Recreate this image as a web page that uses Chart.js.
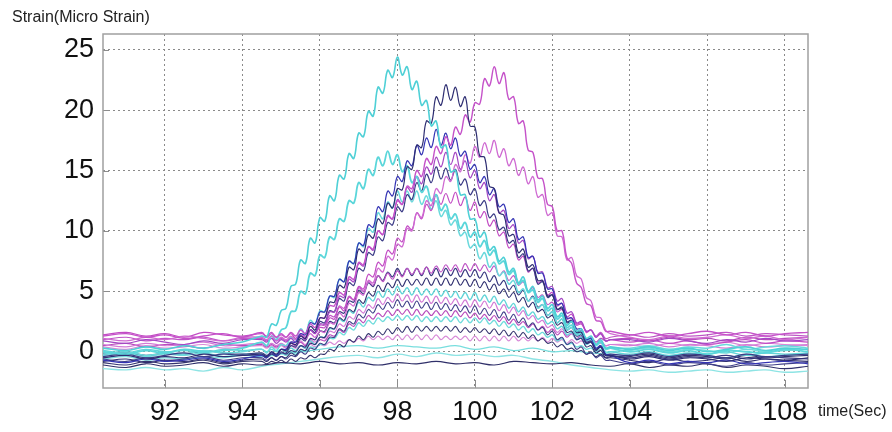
<!DOCTYPE html>
<html>
<head>
<meta charset="utf-8">
<title>Strain vs time</title>
<script src="https://cdn.jsdelivr.net/npm/chart.js@4.4.0/dist/chart.umd.min.js"></script>
<style>
  body { margin: 0; background: #fff; }
  #wrap { position: relative; width: 892px; height: 432px; }
  .cap { position: absolute; font-family: "Liberation Sans", Arial, sans-serif; font-size: 16px; color: #222; white-space: nowrap; }
  #ycap { left: 12px; top: 8px; }
  #xcap { left: 818px; top: 402px; }
</style>
</head>
<body>
<div id="wrap">
  <canvas id="myChart" width="892" height="432"></canvas>
  <div class="cap" id="ycap">Strain(Micro Strain)</div>
  <div class="cap" id="xcap">time(Sec)</div>
</div>
<script>
// tick labels
var xTicks = [92, 94, 96, 98, 100, 102, 104, 106, 108];
var yTicks = [0, 5, 10, 15, 20, 25];

// time (sec) - fine steps during the passing load, coarse before/after
var tFine = [90.4, 91, 91.5, 92, 92.5, 93, 93.5, 94,
  94.5, 94.625, 94.75, 94.875, 95, 95.125, 95.25, 95.375,
  95.5, 95.625, 95.75, 95.875, 96, 96.125, 96.25, 96.375,
  96.5, 96.625, 96.75, 96.875, 97, 97.125, 97.25, 97.375,
  97.5, 97.625, 97.75, 97.875, 98, 98.125, 98.25, 98.375,
  98.5, 98.625, 98.75, 98.875, 99, 99.125, 99.25, 99.375,
  99.5, 99.625, 99.75, 99.875, 100, 100.125, 100.25, 100.375,
  100.5, 100.625, 100.75, 100.875, 101, 101.125, 101.25, 101.375,
  101.5, 101.625, 101.75, 101.875, 102, 102.125, 102.25, 102.375,
  102.5, 102.625, 102.75, 102.875, 103, 103.125, 103.25, 103.375,
  103.5,
  104, 104.5, 105, 105.5, 106, 106.5, 107, 107.5, 108, 108.6];

var tCoarse = [90.4, 91, 91.5, 92, 92.5, 93, 93.5, 94, 94.5, 95, 95.5, 96, 96.5,
  97, 97.5, 98, 98.5, 99, 99.5, 100, 100.5, 101, 101.5, 102, 102.5, 103, 103.5,
  104, 104.5, 105, 105.5, 106, 106.5, 107, 107.5, 108, 108.6];

// strain readings (micro strain), one array per gauge
var cyanA = [0.3, 0.1, 0.4, 0.2, 0.5, 0.3, 0.6, 0.8,
  1.3, 1.2, 2.3, 2.2, 3.4, 3.6, 5.4, 5.6,
  7.6, 7.3, 9.4, 9.0, 11.1, 10.8, 12.9, 12.5,
  14.6, 14.3, 16.4, 16.0, 18.1, 17.8, 19.9, 19.5,
  21.9, 21.4, 23.3, 22.7, 24.4, 22.9, 23.6, 21.7,
  22.4, 20.4, 20.8, 18.7, 19.1, 16.9, 17.1, 14.9,
  15.0, 13.0, 13.0, 11.0, 11.0, 9.5, 9.9, 8.4,
  8.7, 7.5, 7.8, 6.6, 6.9, 5.7, 6.2, 5.0,
  5.4, 4.3, 4.6, 3.6, 3.9, 2.9, 3.2, 2.2,
  2.5, 1.7, 1.9, 1.1, 1.3, 0.6, 1.0, 0.3,
  0.4,
  0.2, 0.4, 0.1, 0.3, 0.0, 0.2, 0.4, 0.1, 0.3, 0.2];

var cyanB = [0.0, -0.2, 0.1, -0.1, 0.2, 0.0, 0.1, 0.3,
  0.8, 0.5, 1.3, 1.0, 1.8, 2.0, 3.3, 3.4,
  5.0, 4.8, 6.5, 6.3, 8.0, 7.8, 9.5, 9.3,
  11.0, 10.8, 12.5, 12.3, 14.0, 13.5, 15.1, 14.6,
  16.1, 15.4, 16.6, 15.5, 16.3, 14.9, 15.4, 14.0,
  14.5, 13.2, 13.7, 12.5, 13.0, 11.7, 12.2, 11.0,
  11.4, 10.2, 10.7, 9.5, 9.9, 8.7, 9.2, 8.0,
  8.4, 7.3, 7.5, 6.4, 6.7, 5.6, 5.9, 4.9,
  5.1, 4.1, 4.4, 3.4, 3.6, 2.7, 3.0, 2.0,
  2.2, 1.5, 1.7, 1.0, 1.1, 0.6, 0.8, 0.3,
  0.3,
  0.0, 0.2, -0.1, 0.1, -0.2, 0.1, 0.0, -0.1, 0.2, 0.0];

var cyanC = [-0.2, 0.0, -0.3, -0.1, -0.2, 0.1, -0.1, 0.0,
  0.2, -0.1, 0.4, 0.1, 0.6, 0.5, 1.2, 1.0,
  1.9, 1.5, 2.6, 2.3, 3.4, 3.3, 4.6, 4.5,
  6.0, 5.8, 7.5, 7.3, 9.0, 8.7, 10.2, 9.9,
  11.5, 11.0, 12.4, 11.9, 13.3, 12.4, 13.3, 12.4,
  13.3, 12.2, 12.9, 11.8, 12.5, 11.2, 11.7, 10.5,
  10.9, 9.6, 9.9, 8.6, 8.9, 7.7, 8.2, 7.0,
  7.4, 6.3, 6.6, 5.6, 5.9, 4.9, 5.2, 4.2,
  4.5, 3.6, 3.9, 3.0, 3.3, 2.4, 2.7, 1.8,
  2.0, 1.4, 1.5, 0.9, 1.0, 0.5, 0.8, 0.2,
  0.3,
  0.3, 0.5, 0.2, 0.4, 0.3, 0.6, 0.2, 0.4, 0.5, 0.3];

var navyC1 = [-0.5, -0.3, -0.6, -0.4, -0.5, -0.2, -0.4, -0.3,
  -0.2, -0.4, 0.0, -0.2, 0.2, 0.1, 0.7, 0.6,
  1.3, 1.1, 2.1, 1.8, 2.8, 2.8, 4.1, 4.1,
  5.5, 5.3, 7.0, 6.8, 8.5, 8.2, 9.7, 9.4,
  11.0, 10.6, 12.3, 11.9, 13.5, 13.4, 15.3, 15.1,
  17.1, 16.9, 19.1, 18.9, 21.1, 20.4, 22.1, 20.8,
  21.9, 20.3, 21.1, 18.7, 18.6, 16.2, 16.1, 13.7,
  13.5, 11.5, 11.3, 9.6, 9.7, 8.2, 8.5, 7.0,
  7.2, 5.9, 5.9, 4.6, 4.7, 3.5, 3.6, 2.4,
  2.5, 1.6, 1.6, 0.7, 0.8, 0.1, 0.4, -0.3,
  -0.3,
  -0.6, -0.4, -0.7, -0.5, -0.6, -0.8, -0.5, -0.6, -0.7, -0.5];

var blueC2 = [-0.7, -0.9, -0.6, -0.8, -0.7, -0.5, -0.8, -0.6,
  -0.3, -0.5, 0.0, -0.3, 0.2, 0.2, 0.8, 0.8,
  1.5, 1.4, 2.4, 2.3, 3.3, 3.3, 4.6, 4.6,
  6.0, 5.8, 7.5, 7.3, 9.0, 8.8, 10.5, 10.3,
  12.0, 11.6, 13.3, 12.9, 14.5, 14.1, 15.8, 15.4,
  17.1, 16.3, 17.7, 16.9, 18.4, 17.1, 18.1, 16.8,
  17.7, 16.2, 16.6, 15.1, 15.5, 14.0, 14.5, 13.0,
  13.5, 12.0, 12.2, 10.7, 11.0, 9.3, 9.5, 7.8,
  7.9, 6.5, 6.5, 5.2, 5.2, 3.9, 4.0, 2.8,
  2.8, 1.9, 1.9, 1.0, 1.1, 0.3, 0.5, -0.2,
  -0.3,
  -0.9, -0.7, -1.0, -0.8, -0.9, -0.7, -1.0, -0.9, -0.8, -1.0];

var navyC3 = [-0.4, -0.2, -0.5, -0.3, -0.1, -0.4, -0.2, -0.3,
  -0.3, -0.5, -0.2, -0.4, -0.1, -0.1, 0.5, 0.4,
  1.1, 0.9, 1.8, 1.6, 2.5, 2.4, 3.4, 3.3,
  4.4, 4.2, 5.7, 5.5, 6.9, 6.7, 8.2, 8.0,
  9.5, 9.2, 10.7, 10.5, 12.0, 11.6, 13.0, 12.6,
  14.0, 13.3, 14.7, 14.0, 15.3, 14.3, 15.2, 14.2,
  15.1, 13.8, 14.3, 13.0, 13.5, 12.1, 12.5, 11.1,
  11.4, 10.1, 10.3, 9.0, 9.2, 7.8, 8.1, 6.7,
  6.9, 5.6, 5.8, 4.5, 4.7, 3.5, 3.7, 2.5,
  2.6, 1.7, 1.7, 0.8, 0.9, 0.2, 0.5, -0.2,
  -0.2,
  -0.3, -0.1, -0.4, -0.2, -0.3, -0.5, -0.2, -0.4, -0.3, -0.2];

var magD = [1.3, 1.5, 1.2, 1.4, 1.1, 1.3, 1.5, 1.2,
  1.6, 1.2, 1.5, 1.2, 1.5, 1.2, 1.6, 1.3,
  1.8, 1.5, 2.3, 2.0, 2.8, 2.8, 3.8, 3.8,
  4.9, 4.7, 6.2, 6.0, 7.4, 7.2, 8.7, 8.5,
  10.0, 9.7, 11.2, 11.0, 12.5, 12.2, 13.7, 13.5,
  15.0, 14.5, 16.0, 15.5, 17.0, 16.4, 17.8, 17.1,
  18.6, 18.0, 19.6, 19.0, 20.6, 20.5, 22.6, 22.0,
  23.6, 22.2, 23.1, 20.9, 21.1, 18.9, 19.1, 16.7,
  16.5, 14.4, 14.3, 12.2, 12.0, 10.0, 10.0, 7.8,
  7.3, 5.7, 5.3, 4.0, 3.8, 2.6, 2.5, 1.7,
  1.7,
  1.4, 1.6, 1.3, 1.5, 1.7, 1.4, 1.6, 1.3, 1.5, 1.6];

var magE = [1.1, 0.9, 1.2, 1.0, 1.3, 1.1, 0.9, 1.2,
  1.2, 1.0, 1.3, 0.9, 1.2, 1.0, 1.3, 1.0,
  1.4, 1.1, 1.5, 1.2, 1.7, 1.6, 2.4, 2.3,
  3.2, 2.9, 4.0, 3.8, 4.9, 4.7, 5.9, 5.7,
  6.9, 6.6, 7.9, 7.6, 8.9, 8.7, 10.2, 10.0,
  11.5, 11.1, 12.5, 12.1, 13.5, 13.1, 14.5, 14.1,
  15.5, 14.9, 16.3, 15.6, 17.0, 16.1, 17.3, 16.4,
  17.5, 16.1, 16.8, 15.4, 16.0, 14.6, 15.3, 13.9,
  14.5, 12.8, 13.0, 11.3, 11.5, 9.6, 9.5, 7.6,
  7.8, 6.3, 6.0, 4.5, 4.2, 2.9, 2.8, 1.8,
  1.5,
  1.2, 1.0, 1.3, 1.1, 1.2, 1.4, 1.1, 1.3, 1.0, 1.2];

var purpM3 = [0.9, 0.7, 1.0, 0.8, 0.6, 0.9, 0.7, 1.0,
  1.0, 0.8, 1.1, 0.7, 1.0, 0.8, 1.1, 0.8,
  1.3, 1.0, 1.8, 1.5, 2.3, 2.3, 3.3, 3.3,
  4.6, 4.5, 6.0, 5.8, 7.3, 7.1, 8.7, 8.4,
  10.0, 9.7, 11.3, 11.0, 12.6, 12.2, 13.6, 13.2,
  14.5, 13.9, 15.3, 14.7, 16.1, 15.3, 16.5, 15.5,
  16.5, 15.1, 15.8, 14.4, 15.0, 13.5, 14.0, 12.5,
  13.0, 11.5, 11.7, 10.2, 10.5, 9.0, 9.2, 7.7,
  7.9, 6.6, 6.6, 5.3, 5.4, 4.2, 4.4, 3.2,
  3.3, 2.4, 2.5, 1.7, 1.8, 1.2, 1.5, 0.9,
  1.0,
  1.0, 0.8, 1.1, 0.9, 0.7, 1.0, 0.8, 1.1, 0.9, 1.0];

var magM4 = [1.4, 1.6, 1.3, 1.5, 1.2, 1.6, 1.4, 1.3,
  1.5, 1.3, 1.6, 1.2, 1.4, 1.2, 1.5, 1.1,
  1.5, 1.2, 1.8, 1.5, 2.0, 2.0, 2.8, 2.7,
  3.7, 3.4, 4.5, 4.3, 5.4, 5.2, 6.4, 6.2,
  7.4, 7.1, 8.4, 8.1, 9.4, 9.1, 10.4, 10.1,
  11.5, 11.0, 12.2, 11.7, 13.0, 12.2, 13.1, 12.3,
  13.2, 12.1, 12.8, 11.7, 12.4, 11.1, 11.6, 10.4,
  10.9, 9.6, 9.9, 8.6, 8.9, 7.6, 7.9, 6.6,
  6.9, 5.7, 5.9, 4.7, 4.9, 3.8, 4.0, 2.9,
  3.1, 2.3, 2.4, 1.6, 1.8, 1.2, 1.5, 0.9,
  1.0,
  0.8, 1.0, 0.7, 0.9, 0.6, 0.8, 1.0, 0.7, 0.9, 0.8];

var magP1 = [1.0, 1.2, 0.9, 1.1, 1.0, 1.2, 0.9, 1.1,
  1.1, 0.9, 1.1, 0.9, 1.1, 0.9, 1.2, 1.0,
  1.4, 1.2, 1.8, 1.6, 2.2, 2.2, 3.0, 2.9,
  3.8, 3.6, 4.6, 4.3, 5.3, 5.0, 5.8, 5.5,
  6.3, 5.8, 6.5, 6.0, 6.7, 6.2, 6.9, 6.4,
  6.9, 6.4, 7.0, 6.5, 7.1, 6.6, 7.2, 6.7,
  7.2, 6.6, 7.3, 6.7, 7.3, 6.7, 7.2, 6.6,
  7.1, 6.3, 6.7, 5.9, 6.3, 5.5, 5.8, 5.0,
  5.3, 4.5, 4.7, 3.9, 4.1, 3.3, 3.5, 2.7,
  2.8, 2.2, 2.3, 1.7, 1.8, 1.3, 1.6, 1.1,
  1.2,
  1.4, 1.2, 1.5, 1.3, 1.4, 1.6, 1.3, 1.5, 1.4, 1.3];

var navyP2 = [-0.2, 0.0, -0.3, -0.1, -0.2, 0.1, -0.1, -0.2,
  -0.1, -0.3, -0.1, -0.3, 0.0, -0.2, 0.1, 0.0,
  0.5, 0.4, 1.1, 1.0, 1.7, 1.7, 2.5, 2.4,
  3.3, 3.2, 4.2, 4.1, 5.1, 4.8, 5.7, 5.4,
  6.3, 5.9, 6.6, 6.2, 6.9, 6.3, 6.9, 6.3,
  6.9, 6.3, 7.0, 6.3, 6.9, 6.2, 6.9, 6.3,
  6.9, 6.2, 6.8, 6.2, 6.8, 6.1, 6.6, 5.8,
  6.3, 5.5, 5.9, 5.1, 5.5, 4.7, 5.1, 4.2,
  4.6, 3.7, 3.9, 3.0, 3.3, 2.4, 2.7, 1.8,
  2.0, 1.3, 1.4, 0.7, 0.8, 0.2, 0.4, -0.3,
  -0.3,
  -0.5, -0.3, -0.6, -0.4, -0.5, -0.3, -0.6, -0.4, -0.5, -0.6];

var navyP3 = [-0.8, -0.6, -0.9, -0.7, -0.8, -0.6, -0.9, -0.7,
  -0.6, -0.8, -0.5, -0.7, -0.4, -0.5, -0.1, -0.3,
  0.2, 0.1, 0.7, 0.6, 1.2, 1.2, 2.0, 1.9,
  2.8, 2.6, 3.5, 3.3, 4.3, 4.0, 4.9, 4.6,
  5.5, 5.0, 5.7, 5.3, 6.0, 5.4, 6.0, 5.5,
  6.0, 5.5, 6.1, 5.5, 6.1, 5.5, 6.1, 5.5,
  6.1, 5.5, 6.0, 5.4, 6.0, 5.3, 5.8, 5.1,
  5.6, 4.8, 5.2, 4.5, 4.9, 4.1, 4.5, 3.7,
  4.1, 3.3, 3.5, 2.8, 3.0, 2.2, 2.4, 1.6,
  1.7, 1.0, 1.1, 0.4, 0.5, -0.1, 0.1, -0.5,
  -0.5,
  -0.7, -0.9, -0.6, -0.8, -0.7, -0.5, -0.8, -0.6, -0.7, -0.8];

var cyanP4 = [0.1, -0.1, 0.2, 0.0, 0.1, -0.1, 0.2, 0.1,
  0.2, 0.0, 0.2, 0.0, 0.2, 0.0, 0.3, 0.1,
  0.5, 0.3, 0.9, 0.6, 1.2, 1.2, 1.9, 1.9,
  2.7, 2.5, 3.4, 3.2, 4.1, 3.7, 4.5, 4.2,
  5.0, 4.5, 5.2, 4.7, 5.4, 4.8, 5.3, 4.7,
  5.3, 4.7, 5.2, 4.7, 5.2, 4.6, 5.1, 4.5,
  5.0, 4.4, 4.9, 4.3, 4.9, 4.2, 4.7, 4.1,
  4.6, 3.9, 4.3, 3.6, 4.0, 3.3, 3.7, 3.0,
  3.3, 2.7, 2.9, 2.3, 2.5, 1.9, 2.1, 1.4,
  1.6, 1.0, 1.2, 0.6, 0.8, 0.3, 0.5, 0.0,
  0.0,
  -0.2, 0.0, -0.3, -0.1, -0.2, 0.0, -0.3, -0.1, -0.2, -0.1];

var magP5 = [0.6, 0.4, 0.7, 0.5, 0.6, 0.8, 0.5, 0.6,
  0.7, 0.5, 0.7, 0.5, 0.7, 0.5, 0.8, 0.6,
  0.9, 0.6, 1.0, 0.8, 1.2, 1.1, 1.7, 1.6,
  2.3, 2.1, 2.9, 2.7, 3.5, 3.2, 3.9, 3.6,
  4.4, 3.9, 4.5, 4.1, 4.8, 4.2, 4.7, 4.1,
  4.7, 4.1, 4.6, 4.0, 4.6, 4.0, 4.5, 3.9,
  4.4, 3.8, 4.3, 3.7, 4.3, 3.7, 4.2, 3.6,
  4.1, 3.4, 3.9, 3.2, 3.7, 3.0, 3.4, 2.7,
  3.0, 2.4, 2.6, 2.0, 2.2, 1.6, 1.9, 1.3,
  1.5, 1.0, 1.2, 0.8, 1.0, 0.6, 0.9, 0.5,
  0.6,
  0.5, 0.7, 0.4, 0.6, 0.5, 0.3, 0.6, 0.4, 0.5, 0.6];

var navyP6 = [-0.6, -0.8, -0.5, -0.7, -0.6, -0.4, -0.7, -0.5,
  -0.5, -0.7, -0.5, -0.7, -0.4, -0.6, -0.3, -0.4,
  0.0, -0.2, 0.3, 0.2, 0.7, 0.6, 1.2, 1.2,
  1.9, 1.7, 2.5, 2.3, 3.1, 2.8, 3.5, 3.2,
  3.9, 3.5, 4.1, 3.6, 4.3, 3.7, 4.2, 3.6,
  4.2, 3.6, 4.1, 3.5, 4.1, 3.5, 4.0, 3.4,
  3.9, 3.3, 3.8, 3.2, 3.8, 3.1, 3.6, 3.0,
  3.5, 2.8, 3.3, 2.6, 3.1, 2.4, 2.8, 2.1,
  2.4, 1.8, 2.0, 1.4, 1.7, 1.0, 1.2, 0.6,
  0.8, 0.2, 0.4, -0.2, 0.0, -0.5, -0.3, -0.7,
  -0.7,
  -1.0, -0.8, -1.1, -0.9, -1.0, -1.2, -0.9, -1.1, -1.0, -0.9];

var magP7 = [0.5, 0.7, 0.4, 0.6, 0.5, 0.3, 0.6, 0.5,
  0.6, 0.4, 0.6, 0.4, 0.6, 0.4, 0.7, 0.5,
  0.8, 0.5, 0.9, 0.6, 1.0, 0.9, 1.4, 1.3,
  1.8, 1.6, 2.3, 2.1, 2.7, 2.4, 3.0, 2.7,
  3.2, 2.9, 3.4, 3.0, 3.5, 3.1, 3.5, 3.0,
  3.5, 3.0, 3.4, 3.0, 3.4, 3.0, 3.4, 2.9,
  3.4, 2.9, 3.3, 2.8, 3.2, 2.7, 3.1, 2.6,
  3.0, 2.5, 2.9, 2.3, 2.7, 2.2, 2.5, 2.0,
  2.3, 1.8, 2.1, 1.6, 1.9, 1.4, 1.7, 1.2,
  1.5, 1.1, 1.3, 0.9, 1.2, 0.8, 1.1, 0.9,
  1.0,
  1.1, 0.9, 1.2, 1.0, 1.1, 0.9, 1.2, 1.0, 1.1, 1.2];

var cyanP8 = [-0.3, -0.1, -0.4, -0.2, -0.3, -0.1, -0.4, -0.2,
  -0.2, -0.4, -0.2, -0.3, -0.1, -0.3, 0.0, -0.2,
  0.1, 0.0, 0.4, 0.3, 0.6, 0.6, 1.1, 1.1,
  1.6, 1.4, 2.0, 1.8, 2.4, 2.1, 2.6, 2.3,
  2.8, 2.5, 2.9, 2.6, 3.0, 2.6, 3.0, 2.6,
  3.0, 2.5, 2.9, 2.5, 2.9, 2.5, 2.9, 2.5,
  2.9, 2.4, 2.8, 2.4, 2.8, 2.4, 2.8, 2.3,
  2.6, 2.1, 2.5, 2.0, 2.3, 1.8, 2.1, 1.6,
  1.9, 1.4, 1.6, 1.2, 1.4, 0.9, 1.1, 0.6,
  0.7, 0.4, 0.5, 0.2, 0.3, 0.0, 0.2, -0.1,
  0.0,
  0.1, 0.3, 0.0, 0.2, 0.1, -0.1, 0.2, 0.0, 0.1, 0.2];

var navyP9 = [-0.9, -1.1, -0.8, -1.0, -0.9, -0.7, -1.0, -0.8,
  -0.8, -1.0, -0.8, -0.9, -0.7, -0.9, -0.6, -0.8,
  -0.5, -0.6, -0.3, -0.5, -0.2, -0.2, 0.2, 0.1,
  0.6, 0.4, 1.0, 0.8, 1.3, 1.0, 1.5, 1.2,
  1.7, 1.4, 1.9, 1.5, 2.0, 1.6, 2.1, 1.6,
  2.1, 1.7, 2.1, 1.7, 2.1, 1.7, 2.1, 1.7,
  2.1, 1.6, 2.0, 1.6, 2.0, 1.6, 1.9, 1.5,
  1.9, 1.4, 1.8, 1.3, 1.7, 1.2, 1.6, 1.1,
  1.4, 0.9, 1.1, 0.7, 0.8, 0.4, 0.6, 0.2,
  0.3, 0.0, 0.1, -0.2, -0.1, -0.4, -0.2, -0.5,
  -0.4,
  -0.4, -0.2, -0.5, -0.3, -0.4, -0.6, -0.3, -0.5, -0.4, -0.3];

var magP10 = [0.4, 0.2, 0.5, 0.3, 0.4, 0.6, 0.3, 0.4,
  0.5, 0.3, 0.5, 0.3, 0.5, 0.3, 0.5, 0.3,
  0.5, 0.3, 0.6, 0.4, 0.6, 0.5, 0.8, 0.6,
  0.9, 0.7, 1.0, 0.8, 1.1, 0.9, 1.3, 1.0,
  1.3, 1.0, 1.3, 1.0, 1.4, 1.0, 1.4, 1.0,
  1.4, 1.0, 1.4, 1.0, 1.4, 1.0, 1.3, 1.0,
  1.3, 1.0, 1.3, 0.9, 1.3, 0.9, 1.3, 0.9,
  1.3, 0.9, 1.3, 0.9, 1.3, 0.9, 1.2, 0.9,
  1.2, 0.9, 1.2, 0.8, 1.1, 0.8, 1.0, 0.7,
  1.0, 0.7, 0.9, 0.6, 0.8, 0.6, 0.7, 0.5,
  0.6,
  0.6, 0.4, 0.7, 0.5, 0.6, 0.8, 0.5, 0.7, 0.6, 0.5];

// near-flat gauges, read at the coarse times
var cyanP11 = [-0.6, -0.4, -0.7, -0.5, -0.6, -0.4, -0.5, -0.3, -0.4, -0.2, 0.0, 0.2, 0.4,
  0.5, 0.3, 0.5, 0.4, 0.3, 0.5, 0.2, 0.4, 0.1, 0.3, 0.0, 0.1, -0.1, -0.2,
  -0.3, -0.1, -0.4, -0.2, -0.3, -0.5, -0.2, -0.4, -0.3, -0.2];
var navyF1 = [-1.1, -1.3, -1.0, -1.2, -1.1, -0.9, -1.2, -1.0, -1.1, -0.9, -1.0, -0.8, -1.0,
  -0.9, -1.1, -0.9, -1.0, -0.8, -1.0, -0.9, -1.1, -0.8, -0.9, -1.0, -0.9, -1.1, -1.2,
  -1.0, -1.3, -1.1, -1.2, -1.0, -1.3, -1.1, -1.2, -1.4, -1.2];
var cyanF2 = [-1.4, -1.5, -1.3, -1.5, -1.4, -1.6, -1.3, -1.5, -1.2, -1.0, -0.8, -0.6, -0.4,
  -0.3, -0.5, -0.2, -0.4, -0.1, -0.3, -0.2, -0.4, -0.3, -0.6, -0.8, -1.1, -1.3, -1.5,
  -1.6, -1.5, -1.7, -1.6, -1.5, -1.7, -1.6, -1.5, -1.7, -1.6];

// gauge, readings, times, colour, width
var gauges = [
  ['cyanA', cyanA, tFine, '#4fd0d6', 1.6],
  ['navyC1', navyC1, tFine, '#2e2e72', 1.2],
  ['magD', magD, tFine, '#c552c9', 1.4],
  ['blueC2', blueC2, tFine, '#3434b4', 1.2],
  ['magE', magE, tFine, '#cf6ad2', 1.3],
  ['cyanB', cyanB, tFine, '#5ad6da', 1.8],
  ['purpM3', purpM3, tFine, '#a447c4', 1.2],
  ['navyC3', navyC3, tFine, '#3b3b86', 1.2],
  ['magM4', magM4, tFine, '#c24cc4', 1.2],
  ['cyanC', cyanC, tFine, '#6ad9dc', 1.5],
  ['magP1', magP1, tFine, '#bf55c6', 1.2],
  ['navyP2', navyP2, tFine, '#383880', 1.2],
  ['navyP3', navyP3, tFine, '#2f2f70', 1.1],
  ['cyanP4', cyanP4, tFine, '#62d4d8', 1.4],
  ['magP5', magP5, tFine, '#d27ad6', 1.2],
  ['navyP6', navyP6, tFine, '#40408a', 1.1],
  ['magP7', magP7, tFine, '#b84cbc', 1.2],
  ['cyanP8', cyanP8, tFine, '#70dcdc', 1.4],
  ['navyP9', navyP9, tFine, '#34346e', 1.1],
  ['magP10', magP10, tFine, '#d88ad8', 1.2],
  ['cyanP11', cyanP11, tCoarse, '#78dede', 1.3],
  ['navyF1', navyF1, tCoarse, '#30306a', 1.1],
  ['cyanF2', cyanF2, tCoarse, '#8ee4e4', 1.4]
];

var datasets = gauges.map(function(g){
  if (g[1].length !== g[2].length) throw new Error(g[0] + ' has ' + g[1].length + ' values, times ' + g[2].length);
  return {
    label: g[0],
    data: g[1].map(function(v, i){ return {x: g[2][i], y: v}; }),
    borderColor: g[3],
    borderWidth: g[4],
    borderJoinStyle: 'round',
    pointRadius: 0,
    tension: 0.4,
    fill: false
  };
});

// short solid ticks on the inside of the frame, plus the frame itself
var frame = {
  id: 'frame',
  beforeDatasetsDraw: function(chart){
    var c = chart.ctx, a = chart.chartArea, x = chart.scales.x, y = chart.scales.y;
    c.save();
    c.strokeStyle = '#8c8c8c';
    c.lineWidth = 1;
    c.beginPath();
    xTicks.forEach(function(v){
      var px = Math.round(x.getPixelForValue(v)) + 0.5;
      c.moveTo(px, a.bottom); c.lineTo(px, a.bottom - 8);
    });
    yTicks.forEach(function(v){
      var py = Math.round(y.getPixelForValue(v)) + 0.5;
      c.moveTo(a.left, py); c.lineTo(a.left + 6, py);
    });
    c.stroke();
    c.strokeStyle = '#a0a0a0';
    c.lineWidth = 1.5;
    c.strokeRect(a.left, a.top, a.right - a.left, a.bottom - a.top);
    c.restore();
  }
};

var ctx = document.getElementById('myChart');
var grafica = new Chart(ctx, {
  type: 'line',
  data: { datasets: datasets },
  options: {
    responsive: false,
    animation: false,
    devicePixelRatio: 1,
    layout: { padding: { top: 34, right: 84, left: 0, bottom: 0 } },
    plugins: { legend: { display: false }, tooltip: { enabled: false } },
    scales: {
      x: {
        type: 'linear',
        min: 90.4,
        max: 108.6,
        afterBuildTicks: function(s){ s.ticks = xTicks.map(function(v){ return {value: v}; }); },
        afterFit: function(s){ s.height = 44; },
        grid: { color: '#8a8a8a', lineWidth: 1, drawTicks: false },
        border: { display: false, dash: [2, 3] },
        ticks: { padding: 8, color: '#111', maxRotation: 0, font: { family: 'Liberation Sans', size: 27 } }
      },
      y: {
        min: -3,
        max: 26.3,
        afterBuildTicks: function(s){ s.ticks = yTicks.map(function(v){ return {value: v}; }); },
        afterFit: function(s){ s.width = 103; },
        grid: { color: '#8a8a8a', lineWidth: 1, drawTicks: false },
        border: { display: false, dash: [2, 3] },
        ticks: { padding: 9, color: '#111', font: { family: 'Liberation Sans', size: 27 } }
      }
    }
  },
  plugins: [frame]
});
</script>
</body>
</html>
